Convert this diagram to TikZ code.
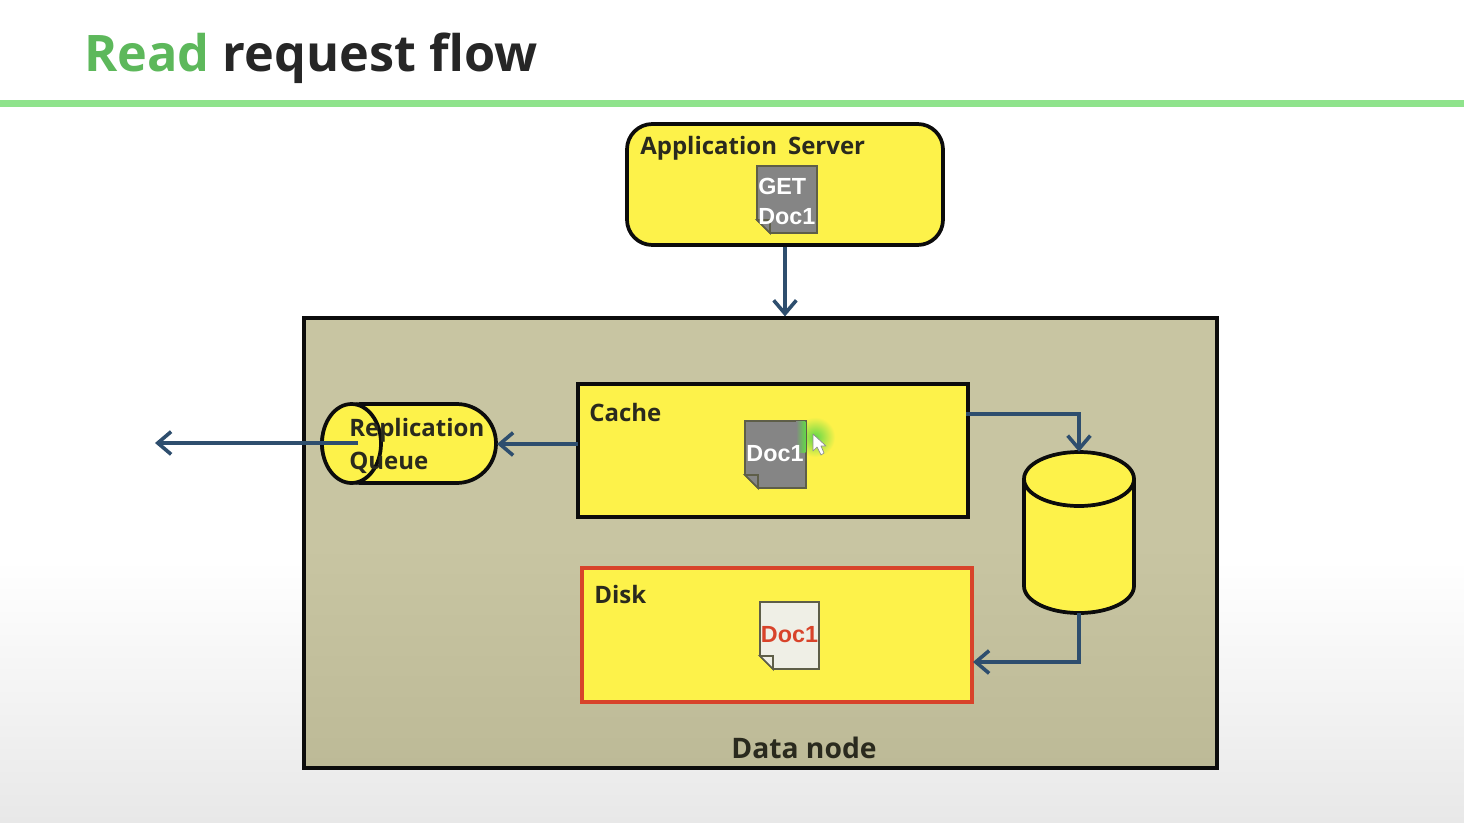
\documentclass[tikz,border=0pt]{standalone}
\usepackage{fontspec}
\setmainfont{Open Sans}
\newfontfamily\docfont{Liberation Sans}
\usetikzlibrary{arrows.meta,shadings,shapes.geometric}
\definecolor{titlegreen}{HTML}{5DB85B}
\definecolor{rulegreen}{HTML}{8FE38C}
\definecolor{boxyellow}{HTML}{FDF24A}
\definecolor{nodetan}{HTML}{C8C5A2}
\definecolor{nodetandark}{HTML}{BDBA97}
\definecolor{flow}{HTML}{2E4E6E}
\definecolor{inkline}{HTML}{0C0C0C}
\definecolor{diskred}{HTML}{D8432A}
\definecolor{docgrey}{HTML}{858585}
\definecolor{docpale}{HTML}{EFEFE6}
\definecolor{docedge}{HTML}{5E5E48}
\definecolor{labelink}{HTML}{2A2A1E}
\definecolor{glow}{HTML}{62D848}
\tikzset{
  x=0.75pt,y=-0.75pt,
  boxshape/.style={draw=inkline,fill=boxyellow,line width=2.8pt,inner sep=0pt},
  flowline/.style={draw=flow,line width=2.7pt,-{Straight Barb[length=10pt,width=17pt,line width=2.7pt]}},
  boxlabel/.style={font=\bfseries\fontsize{18}{24}\selectfont,text=labelink,inner sep=0pt,anchor=base west},
  doctext/.style={font=\docfont\bfseries\fontsize{17.5}{22}\selectfont,inner sep=0pt},
  docsheet/.style={draw=docedge,line width=1.3pt,line join=miter},
}
\newcommand{\docicon}[6]{% x0 y0 x1 y1 fill foldfill
  \draw[docsheet,fill=#5] (#1,#2) -- (#3,#2) -- (#3,#4) -- ({#1+13},#4) -- (#1,{#4-13}) -- cycle;
  \draw[docsheet,fill=#6] (#1,{#4-13}) -- ({#1+13},{#4-13}) -- ({#1+13},#4) -- cycle;
}
\begin{document}
\begin{tikzpicture}
\useasboundingbox (0,0) rectangle (1464,822);
% slide background
\fill[white] (0,0) rectangle (1464,560);
\shade[top color=white,bottom color=black!9] (0,560) rectangle (1464,822);
% title
\node[font=\bfseries\fontsize{37.8}{44}\selectfont,inner sep=0pt,anchor=base west,text=black!85] (title) at (84,71) {\textcolor{titlegreen}{Read} request flow};
\fill[rulegreen] (0,100) rectangle (1464,107);

% data node
\node[draw=inkline,line width=2.4pt,inner sep=0pt,minimum width={913*0.75pt},minimum height={450*0.75pt},
  top color=nodetan,bottom color=nodetandark,middle color=nodetan] (datanode) at (760.5,543) {};
\node[font=\bfseries\fontsize{21.2}{26}\selectfont,text=labelink,inner sep=0pt,anchor=base] (datalabel) at (804,758) {Data node};

% application server
\node[boxshape,rounded corners=19pt,minimum width={316*0.75pt},minimum height={121*0.75pt}] (app) at (785,184.5) {};
\node[boxlabel] (applabel) at (640,154) {Application\hspace{0.2em} Server};
\docicon{757}{166}{817}{233}{docgrey}{docgrey}
\node[doctext,text=white,align=left,anchor=west] (getdoc) at (758,201.5) {GET\\[0pt]Doc1};

% cache
\node[boxshape,minimum width={390*0.75pt},minimum height={133*0.75pt}] (cache) at (773,450.5) {};
\node[boxlabel] (cachelabel) at (589,421) {Cache};
% pointer highlight behind the document edge
\shade[inner color=glow,outer color=boxyellow,draw=none] (815,437) circle (20);
\docicon{745}{421}{806}{488}{docgrey}{docgrey}
\shade[left color=docgrey,right color=glow] (796,421.6) rectangle (805.4,452);
\node[doctext,text=white,anchor=center] (cachedoc) at (775,454) {Doc1};
\draw[fill=white,draw=black!45,line width=0.5pt,line join=round] (813,434) -- (813,451) -- (817,447) -- (821,455) -- (824,453) -- (821,446) -- (826,446) -- cycle;

% disk
\node[draw=diskred,fill=boxyellow,line width=2.8pt,inner sep=0pt,minimum width={390*0.75pt},minimum height={134*0.75pt}] (disk) at (777,635) {};
\node[boxlabel] (disklabel) at (594,603) {Disk};
\docicon{760}{602}{819}{669}{docpale}{docpale}
\node[doctext,text=diskred,anchor=center] (diskdoc) at (789.5,635) {Doc1};

% replication queue
\node[boxshape,rounded corners=29.5pt,minimum width={174*0.75pt},minimum height={79*0.75pt}] (queue) at (409,443.5) {};
\node[draw=inkline,line width=2.8pt,ellipse,fill=boxyellow,inner sep=0pt,minimum width={59*0.75pt},minimum height={79*0.75pt}] (queuecap) at (351.5,443.5) {};
\coordinate (queueout) at (358,443);
\node[boxlabel] (queuelabel1) at (349,436) {Replication};
\node[boxlabel] (queuelabel2) at (349,469) {Queue};

% cylinder store
\path[draw=inkline,fill=boxyellow,line width=2.8pt]
  (1024,479) -- (1024,586) arc[start angle=180,end angle=0,x radius=55,y radius=27]
  -- (1134,479) arc[start angle=0,end angle=-180,x radius=55,y radius=27] -- cycle;
\draw[inkline,line width=2.8pt] (1024,479) arc[start angle=180,end angle=0,x radius=55,y radius=27];
\node[inner sep=0pt,minimum width={111*0.75pt},minimum height={161*0.75pt}] (store) at (1079,532.5) {};

% connectors
\coordinate (remote) at (155,443);
\coordinate (cacheout) at (966,414);
\coordinate (cachequeue) at (578,444);
\coordinate (queuein) at (497,444);
\coordinate (diskin) at (973,662);
\draw[flowline] (app.south) -- (app.south |- datanode.north);
\draw[flowline] (cachequeue) -- (queuein);
\draw[flowline] (queueout) -- (remote);
\draw[flowline] (cacheout) -| (store.north);
\draw[flowline] (store.south) |- (diskin);
\end{tikzpicture}
\end{document}
